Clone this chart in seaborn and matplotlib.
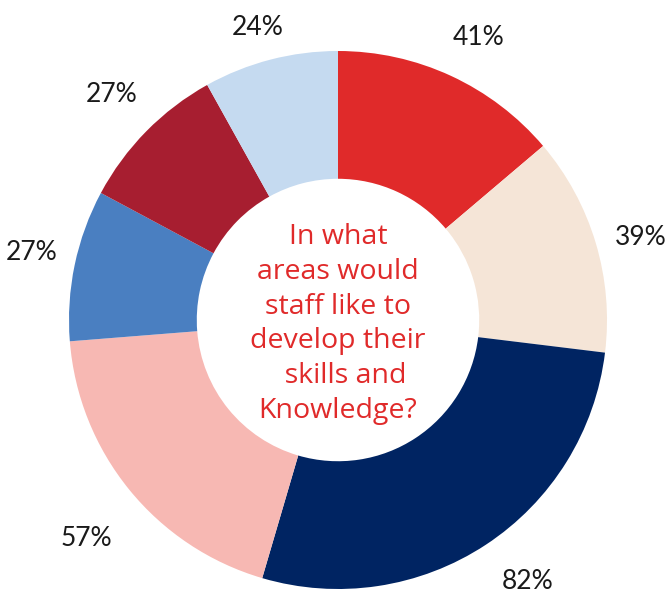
import matplotlib
matplotlib.use("Agg")
import matplotlib.pyplot as plt
import seaborn as sns
import numpy as np

values = [41, 39, 82, 57, 27, 27, 24]
labels = ["41%", "39%", "82%", "57%", "27%", "27%", "24%"]
colors = ["#E02A2A", "#F5E5D7", "#002462", "#F7B8B3", "#4A7FC1", "#A71E30", "#C5DAF0"]
center_text = "In what\nareas would\nstaff like to\ndevelop their\n  skills and\nKnowledge?"
label_dist = [1.172, 1.167, 1.201, 1.238, 1.168, 1.187, 1.129]
label_angle_offset = [-1.6, -1.4, 2.5, 1.8, -0.6, -0.4, 0.8]

sns.set_theme(style="white")
plt.rcParams["font.family"] = ["Lato", "DejaVu Sans"]

W, H = 671, 596
fig = plt.figure(figsize=(W / 100, H / 100), dpi=100)
cx, cy, r = 338, 596 - 320, 269
ax = fig.add_axes([(cx - r) / W, (cy - r) / H, 2 * r / W, 2 * r / H])

wedges, _ = ax.pie(
    values, colors=colors, startangle=90, counterclock=False,
    radius=1, wedgeprops=dict(width=1 - 0.525, edgecolor="none"),
)
for w, lab, d, off in zip(wedges, labels, label_dist, label_angle_offset):
    ang = np.deg2rad((w.theta1 + w.theta2) / 2 + off)
    ax.text(d * np.cos(ang), d * np.sin(ang), lab, ha="center", va="center",
            fontsize=19, color="#1a1a1a", clip_on=False)
ax.set_xlim(-1, 1)
ax.set_ylim(-1, 1)
ax.axis("off")

ax.text(0.0, -0.015, center_text, ha="center", va="center", color="#E02A2A",
        fontsize=20.5, linespacing=1.32, family=["Open Sans", "DejaVu Sans"])

fig.savefig("out.png", dpi=100)
